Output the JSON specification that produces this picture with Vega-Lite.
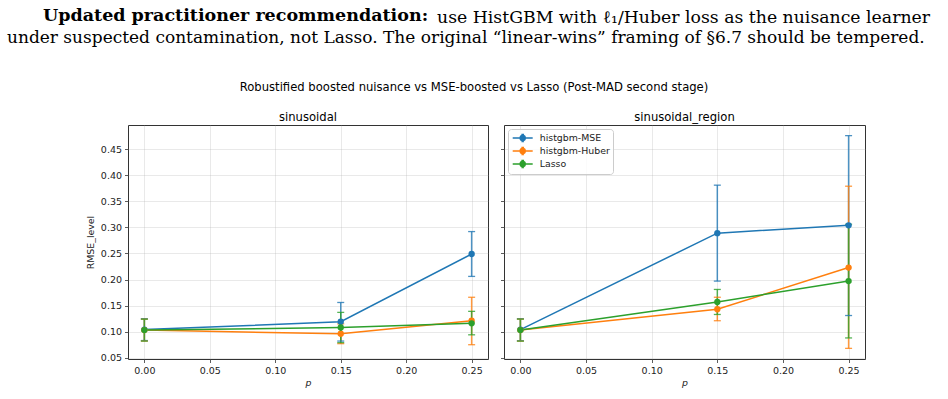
{
  "$schema": "https://vega.github.io/schema/vega-lite/v6.json",
  "background": "white",
  "padding": {"left": 7, "top": 6, "right": 10, "bottom": 4},
  "datasets": {
    "rmse": [
      {"panel": "sinusoidal", "model": "histgbm-MSE", "p": 0.0, "rmse": 0.104, "lo": 0.083, "hi": 0.125},
      {"panel": "sinusoidal", "model": "histgbm-MSE", "p": 0.15, "rmse": 0.119, "lo": 0.082, "hi": 0.156},
      {"panel": "sinusoidal", "model": "histgbm-MSE", "p": 0.25, "rmse": 0.249, "lo": 0.206, "hi": 0.292},
      {"panel": "sinusoidal", "model": "histgbm-Huber", "p": 0.0, "rmse": 0.103, "lo": 0.082, "hi": 0.124},
      {"panel": "sinusoidal", "model": "histgbm-Huber", "p": 0.15, "rmse": 0.096, "lo": 0.077, "hi": 0.115},
      {"panel": "sinusoidal", "model": "histgbm-Huber", "p": 0.25, "rmse": 0.121, "lo": 0.075, "hi": 0.166},
      {"panel": "sinusoidal", "model": "Lasso", "p": 0.0, "rmse": 0.103, "lo": 0.082, "hi": 0.124},
      {"panel": "sinusoidal", "model": "Lasso", "p": 0.15, "rmse": 0.108, "lo": 0.079, "hi": 0.137},
      {"panel": "sinusoidal", "model": "Lasso", "p": 0.25, "rmse": 0.116, "lo": 0.094, "hi": 0.139},
      {"panel": "sinusoidal_region", "model": "histgbm-MSE", "p": 0.0, "rmse": 0.104, "lo": 0.083, "hi": 0.125},
      {"panel": "sinusoidal_region", "model": "histgbm-MSE", "p": 0.15, "rmse": 0.289, "lo": 0.197, "hi": 0.381},
      {"panel": "sinusoidal_region", "model": "histgbm-MSE", "p": 0.25, "rmse": 0.304, "lo": 0.131, "hi": 0.476},
      {"panel": "sinusoidal_region", "model": "histgbm-Huber", "p": 0.0, "rmse": 0.103, "lo": 0.082, "hi": 0.124},
      {"panel": "sinusoidal_region", "model": "histgbm-Huber", "p": 0.15, "rmse": 0.143, "lo": 0.121, "hi": 0.166},
      {"panel": "sinusoidal_region", "model": "histgbm-Huber", "p": 0.25, "rmse": 0.223, "lo": 0.068, "hi": 0.379},
      {"panel": "sinusoidal_region", "model": "Lasso", "p": 0.0, "rmse": 0.103, "lo": 0.082, "hi": 0.124},
      {"panel": "sinusoidal_region", "model": "Lasso", "p": 0.15, "rmse": 0.157, "lo": 0.133, "hi": 0.181},
      {"panel": "sinusoidal_region", "model": "Lasso", "p": 0.25, "rmse": 0.197, "lo": 0.088, "hi": 0.306}
    ]
  },
  "title": {
    "text": "Updated practitioner recommendation:",
    "font": "DejaVu Serif", "fontSize": 17.5, "fontWeight": "bold", "color": "#000",
    "anchor": "start", "frame": "group", "dx": -85, "offset": -15
  },
  "vconcat": [
    {
      "title": {
        "text": "use HistGBM with ℓ₁/Huber loss as the nuisance learner",
        "font": "DejaVu Serif", "fontSize": 17.3, "fontWeight": "normal", "color": "#000",
        "anchor": "start", "frame": "group", "dx": 309, "offset": 3
      },
      "vconcat": [
        {
          "title": {
            "text": "under suspected contamination, not Lasso. The original “linear-wins” framing of §6.7 should be tempered.",
            "font": "DejaVu Serif", "fontSize": 17, "fontWeight": "normal", "color": "#000",
            "anchor": "start", "frame": "group", "dx": -121, "offset": 35
          },
          "vconcat": [
            {
              "title": {
                "text": "Robustified boosted nuisance vs MSE-boosted vs Lasso (Post-MAD second stage)",
                "font": "DejaVu Sans", "fontSize": 11.6, "fontWeight": "normal", "color": "#000",
                "anchor": "middle", "frame": "group", "dx": 346, "offset": 18
              },
              "data": {"name": "rmse"},
              "spacing": 16,
              "bounds": "flush",
              "resolve": {"scale": {"color": "shared"}, "legend": {"color": "independent"}},
              "hconcat": [
                {
                  "width": 360,
                  "height": 234,
                  "title": {"text": "sinusoidal", "font": "DejaVu Sans", "fontSize": 11.6, "fontWeight": "normal", "color": "#000", "anchor": "middle", "offset": 1},
                  "transform": [{"filter": "datum.panel === 'sinusoidal'"}],
                  "encoding": {
                    "x": {"field": "p", "type": "quantitative", "scale": {"domain": [-0.0125, 0.2625], "nice": false, "zero": false}, "axis": {"values": [0, 0.05, 0.1, 0.15, 0.2, 0.25], "format": ".2f", "title": "p"}},
                    "color": {"field": "model", "type": "nominal", "scale": {"domain": ["histgbm-MSE", "histgbm-Huber", "Lasso"], "range": ["#1f77b4", "#ff7f0e", "#2ca02c"]}, "legend": null}
                  },
                  "layer": [
                    {"mark": {"type": "rule", "strokeWidth": 1.5, "opacity": 0.8}, "encoding": {"y": {"field": "lo", "type": "quantitative", "scale": {"domain": [0.0476, 0.4964], "nice": false, "zero": false}, "axis": {"values": [0.05, 0.1, 0.15, 0.2, 0.25, 0.3, 0.35, 0.4, 0.45], "format": ".2f", "title": "RMSE_level"}}, "y2": {"field": "hi"}}},
                    {"mark": {"type": "tick", "orient": "horizontal", "size": 7, "thickness": 1.3, "opacity": 0.8}, "encoding": {"y": {"field": "lo", "type": "quantitative", "scale": {"domain": [0.0476, 0.4964], "nice": false, "zero": false}, "axis": {"values": [0.05, 0.1, 0.15, 0.2, 0.25, 0.3, 0.35, 0.4, 0.45], "format": ".2f", "title": "RMSE_level"}}}},
                    {"mark": {"type": "tick", "orient": "horizontal", "size": 7, "thickness": 1.3, "opacity": 0.8}, "encoding": {"y": {"field": "hi", "type": "quantitative", "scale": {"domain": [0.0476, 0.4964], "nice": false, "zero": false}, "axis": {"values": [0.05, 0.1, 0.15, 0.2, 0.25, 0.3, 0.35, 0.4, 0.45], "format": ".2f", "title": "RMSE_level"}}}},
                    {"mark": {"type": "line", "strokeWidth": 1.5}, "encoding": {"y": {"field": "rmse", "type": "quantitative", "scale": {"domain": [0.0476, 0.4964], "nice": false, "zero": false}, "axis": {"values": [0.05, 0.1, 0.15, 0.2, 0.25, 0.3, 0.35, 0.4, 0.45], "format": ".2f", "title": "RMSE_level"}}}},
                    {"mark": {"type": "point", "filled": true, "size": 40, "opacity": 1}, "encoding": {"y": {"field": "rmse", "type": "quantitative", "scale": {"domain": [0.0476, 0.4964], "nice": false, "zero": false}, "axis": {"values": [0.05, 0.1, 0.15, 0.2, 0.25, 0.3, 0.35, 0.4, 0.45], "format": ".2f", "title": "RMSE_level"}}}}
                  ]
                },
                {
                  "width": 361,
                  "height": 234,
                  "title": {"text": "sinusoidal_region", "font": "DejaVu Sans", "fontSize": 11.6, "fontWeight": "normal", "color": "#000", "anchor": "middle", "offset": 1},
                  "transform": [{"filter": "datum.panel === 'sinusoidal_region'"}],
                  "encoding": {
                    "x": {"field": "p", "type": "quantitative", "scale": {"domain": [-0.0125, 0.2625], "nice": false, "zero": false}, "axis": {"values": [0, 0.05, 0.1, 0.15, 0.2, 0.25], "format": ".2f", "title": "p"}},
                    "color": {
                      "field": "model", "type": "nominal",
                      "scale": {"domain": ["histgbm-MSE", "histgbm-Huber", "Lasso"], "range": ["#1f77b4", "#ff7f0e", "#2ca02c"]},
                      "legend": {
                        "title": null, "orient": "top-left", "offset": 4, "padding": 3,
                        "symbolType": "M-2,0H2M-0.5,0A0.5,0.5,0,1,1,0.5,0A0.5,0.5,0,1,1,-0.5,0M0,-0.7V0.7M-0.27,-0.7H0.27M-0.27,0.7H0.27",
                        "symbolSize": 100, "symbolOffset": 5.7, "symbolStrokeWidth": 1.5,
                        "labelOffset": 11, "labelFont": "DejaVu Sans", "labelFontSize": 9.4, "labelColor": "#222",
                        "rowPadding": -1, "fillColor": "rgba(255,255,255,0.8)", "strokeColor": "#cccccc", "cornerRadius": 3,
                        "encode": {"symbols": {"update": {"fill": {"signal": "scale('color', datum.value)"}, "stroke": {"signal": "scale('color', datum.value)"}, "opacity": {"value": 1}}}}
                      }
                    }
                  },
                  "layer": [
                    {"mark": {"type": "rule", "strokeWidth": 1.5, "opacity": 0.8}, "encoding": {"y": {"field": "lo", "type": "quantitative", "scale": {"domain": [0.0476, 0.4964], "nice": false, "zero": false}, "axis": {"values": [0.05, 0.1, 0.15, 0.2, 0.25, 0.3, 0.35, 0.4, 0.45], "labels": false, "title": null}}, "y2": {"field": "hi"}}},
                    {"mark": {"type": "tick", "orient": "horizontal", "size": 7, "thickness": 1.3, "opacity": 0.8}, "encoding": {"y": {"field": "lo", "type": "quantitative", "scale": {"domain": [0.0476, 0.4964], "nice": false, "zero": false}, "axis": {"values": [0.05, 0.1, 0.15, 0.2, 0.25, 0.3, 0.35, 0.4, 0.45], "labels": false, "title": null}}}},
                    {"mark": {"type": "tick", "orient": "horizontal", "size": 7, "thickness": 1.3, "opacity": 0.8}, "encoding": {"y": {"field": "hi", "type": "quantitative", "scale": {"domain": [0.0476, 0.4964], "nice": false, "zero": false}, "axis": {"values": [0.05, 0.1, 0.15, 0.2, 0.25, 0.3, 0.35, 0.4, 0.45], "labels": false, "title": null}}}},
                    {"mark": {"type": "line", "strokeWidth": 1.5}, "encoding": {"y": {"field": "rmse", "type": "quantitative", "scale": {"domain": [0.0476, 0.4964], "nice": false, "zero": false}, "axis": {"values": [0.05, 0.1, 0.15, 0.2, 0.25, 0.3, 0.35, 0.4, 0.45], "labels": false, "title": null}}}},
                    {"mark": {"type": "point", "filled": true, "size": 40, "opacity": 1}, "encoding": {"y": {"field": "rmse", "type": "quantitative", "scale": {"domain": [0.0476, 0.4964], "nice": false, "zero": false}, "axis": {"values": [0.05, 0.1, 0.15, 0.2, 0.25, 0.3, 0.35, 0.4, 0.45], "labels": false, "title": null}}}}
                  ]
                }
              ]
            }
          ]
        }
      ]
    }
  ],
  "config": {
    "font": "DejaVu Sans",
    "view": {"stroke": "#333", "strokeWidth": 1},
    "axis": {
      "domain": false,
      "labelFont": "DejaVu Sans", "labelFontSize": 9.5, "labelColor": "#222", "labelPadding": 3,
      "tickColor": "#333", "tickSize": 3.5, "tickWidth": 0.8,
      "gridColor": "#b0b0b0", "gridOpacity": 0.35, "gridWidth": 0.8,
      "titleFont": "DejaVu Sans", "titleFontSize": 9.4, "titleFontWeight": "normal", "titleColor": "#222"
    },
    "axisX": {"titleFontStyle": "italic", "titlePadding": 3},
    "axisY": {"titlePadding": 5}
  }
}
